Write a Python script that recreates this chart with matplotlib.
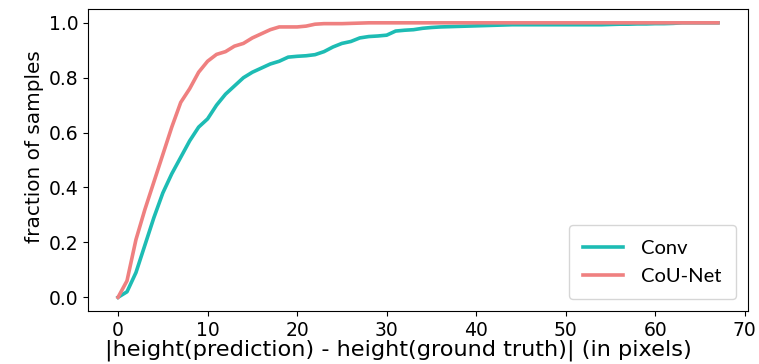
import matplotlib
matplotlib.use("Agg")
import matplotlib.pyplot as plt
import numpy as np

x_pixels = list(range(0, 68))
conv = [0.0, 0.02, 0.09, 0.19, 0.29, 0.38, 0.45, 0.51, 0.57, 0.62,
        0.65, 0.70, 0.74, 0.77, 0.80, 0.82, 0.835, 0.85, 0.86, 0.875,
        0.878, 0.88, 0.884, 0.895, 0.912, 0.925, 0.932, 0.945, 0.95, 0.952,
        0.955, 0.97, 0.973, 0.975, 0.98, 0.983, 0.985, 0.986, 0.987, 0.988,
        0.989, 0.99, 0.991, 0.992, 0.993, 0.993, 0.993, 0.993, 0.993, 0.993,
        0.993, 0.993, 0.993, 0.993, 0.993, 0.994, 0.995, 0.995, 0.996, 0.996,
        0.997, 0.997, 0.998, 1.0, 1.0, 1.0, 1.0, 1.0]
counet = [0.0, 0.06, 0.21, 0.32, 0.42, 0.52, 0.62, 0.71, 0.76, 0.82,
          0.86, 0.885, 0.895, 0.915, 0.925, 0.945, 0.96, 0.975, 0.985, 0.985,
          0.985, 0.988, 0.995, 0.997, 0.997, 0.997, 0.998, 0.999, 1.0, 1.0] + [1.0] * 38
series_labels = ["Conv", "CoU-Net"]
colors = ["#1dbcb4", "#ef8080"]

fig = plt.figure(figsize=(7.59, 3.64), dpi=100)
ax = fig.add_axes([0.116, 0.1456, 0.8695, 0.8294])
ax.plot(x_pixels, conv, color=colors[0], lw=2.6, label=series_labels[0])
ax.plot(x_pixels, counet, color=colors[1], lw=2.6, label=series_labels[1])

ax.set_xticks([0, 10, 20, 30, 40, 50, 60, 70])
ax.set_yticks([0.0, 0.2, 0.4, 0.6, 0.8, 1.0])
ax.tick_params(labelsize=13.5)
ax.set_xlabel("|height(prediction) - height(ground truth)| (in pixels)", fontsize=16.2, labelpad=0)
ax.xaxis.label.set_x(0.47)
ax.set_ylabel("fraction of samples", fontsize=14.4, labelpad=3)
ax.yaxis.label.set_y(0.546)

leg = ax.legend(loc="lower right", prop={"family": "Lato", "size": 14.5},
                handlelength=2.0, borderpad=0.7, labelspacing=0.55, handletextpad=0.9,
                borderaxespad=0.6)

fig.savefig("out.png", dpi=100)
